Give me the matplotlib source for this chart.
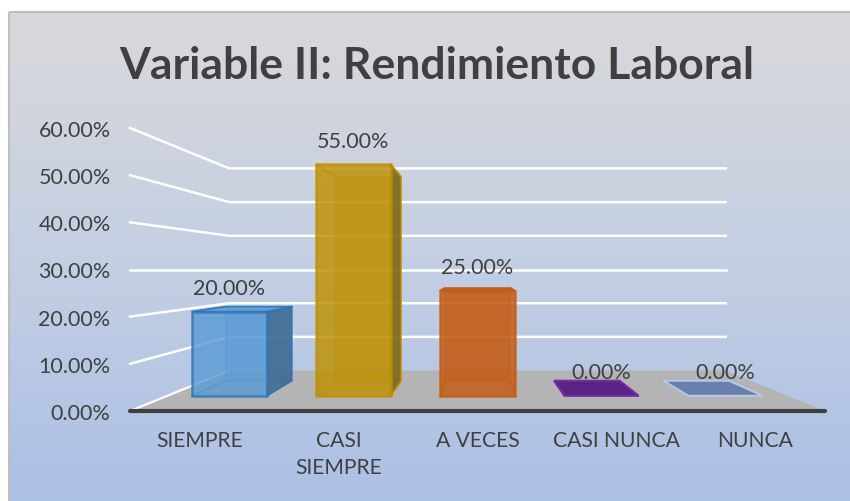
import numpy as np
import matplotlib.pyplot as plt
from matplotlib.colors import LinearSegmentedColormap
from matplotlib.patches import Polygon, Rectangle

categories = ["SIEMPRE", "CASI\nSIEMPRE", "A VECES", "CASI NUNCA", "NUNCA"]
values = [20.0, 55.0, 25.0, 0.0, 0.0]
y_ticks = [0, 10, 20, 30, 40, 50, 60]
title = "Variable II: Rendimiento Laboral"

face_colors = ["#5b9bd5", "#bf9000", "#c55a11", "#5a2383", "#6a7fab"]
edge_colors = ["#2e75b6", "#bf9000", "#c55a11", "#7030a0", "#b4c7e7"]
side_colors = ["#3d6690", "#7a6418", "#8a4010", "#3c175a", "#4a5a7a"]

plt.rcParams['font.family'] = ['Lato', 'DejaVu Sans']
TXT = "#404040"

W, H = 850, 502
fig = plt.figure(figsize=(W / 100, H / 100), dpi=100)

# background with gradient and thin frame
bg = fig.add_axes([0, 0, 1, 1])
grad = np.linspace(0, 1, 256)[:, None]
cmap = LinearSegmentedColormap.from_list("bg", ["#d9d9db", "#c4cfe2", "#abc0e6"])
bg.imshow(grad, extent=(9, W + 2, H + 2, 13), cmap=cmap, aspect='auto')
bg.add_patch(Rectangle((9, 13), W, H, fill=False, ec="#bfbfbf", lw=1.5))
bg.set_xlim(0, W)
bg.set_ylim(H, 0)
bg.axis('off')

fig.text(437 / W, 1 - 66 / H, title, ha='center', va='center',
         fontsize=32, fontweight='bold', color=TXT)

# front plane of the 3d box is the axes itself
ax = fig.add_axes([130 / W, 90 / H, 695 / W, 283 / H])
ax.set_xlim(-0.5, len(categories) - 0.5)
ax.set_ylim(0, 60)
ax.patch.set_visible(False)
for sp in ax.spines.values():
    sp.set_visible(False)

# simple one point perspective
VX, VY = 2.0, 30.0
DEPTH = 0.4
Z0, Z1 = 0.3, 0.68
HW = 0.3


def proj(x, y, z):
    s = 1.0 / (1.0 + DEPTH * z)
    return VX + (x - VX) * s, VY + (y - VY) * s


def poly(pts, **kw):
    p = Polygon([proj(*q) for q in pts], closed=True, clip_on=False, **kw)
    ax.add_patch(p)


def line(pts, **kw):
    xy = np.array([proj(*q) for q in pts])
    ax.plot(xy[:, 0], xy[:, 1], clip_on=False, **kw)


xl, xr = -0.5, len(categories) - 0.5

# floor
poly([(xl, 0, 0), (xr, 0, 0), (xr, 0, 1), (xl, 0, 1)], fc="#b4b4b4", ec='none', zorder=1)

# grid lines on side and back wall
for v in y_ticks:
    if v == 0:
        line([(xl, v, 0), (xl, v, 1)], color="white", lw=1.6, zorder=2)
    else:
        line([(xl, v, 0), (xl, v, 1), (xr, v, 1)], color="white", lw=1.8, zorder=0.5)

line([(xl, 0, 0), (xr, 0, 0)], color="#404040", lw=3, solid_capstyle='round', zorder=2)

# bars
for i, v in enumerate(values):
    fc, ec, sc = face_colors[i], edge_colors[i], side_colors[i]
    x0, x1 = i - HW, i + HW
    if v == 0:
        poly([(x0, 0, Z0), (x1, 0, Z0), (x1, 0, Z1), (x0, 0, Z1)],
             fc=fc, ec=ec, lw=1.5, zorder=3)
    else:
        # hidden edges seen through the glass
        poly([(x0, 0, Z1), (x1, 0, Z1), (x1, v, Z1), (x0, v, Z1)],
             fc=fc, ec=ec, lw=1.2, alpha=0.35, zorder=3)
        for xx in (x0, x1):
            for yy in (0, v):
                line([(xx, yy, Z0), (xx, yy, Z1)], color=ec, lw=1.2, alpha=0.7, zorder=3)
        if VX > x1:
            poly([(x1, 0, Z0), (x1, 0, Z1), (x1, v, Z1), (x1, v, Z0)],
                 fc=sc, ec=ec, lw=1.2, alpha=0.85, zorder=4)
        if VX < x0:
            poly([(x0, 0, Z0), (x0, 0, Z1), (x0, v, Z1), (x0, v, Z0)],
                 fc=sc, ec=ec, lw=1.2, alpha=0.85, zorder=4)
        if VY > v:
            poly([(x0, v, Z0), (x1, v, Z0), (x1, v, Z1), (x0, v, Z1)],
                 fc=fc, ec=ec, lw=1.2, alpha=0.85, zorder=4)
        poly([(x0, 0, Z0), (x1, 0, Z0), (x1, v, Z0), (x0, v, Z0)],
             fc=fc, ec=ec, lw=1.8, alpha=0.82, zorder=5)
    ax.annotate(f"{v:.2f}%", xy=proj(i, v, Z0), xytext=(0, 17),
                textcoords='offset points', ha='center', va='center',
                fontsize=15.5, color=TXT, annotation_clip=False, zorder=6)

ax.set_yticks(y_ticks)
ax.set_yticklabels([f"{t:.2f}%" for t in y_ticks])
ax.set_xticks(range(len(categories)))
ax.set_xticklabels(categories, linespacing=1.4)
ax.tick_params(axis='y', length=0, pad=14, labelsize=15.5, labelcolor=TXT)
ax.tick_params(axis='x', length=0, pad=14, labelsize=15.2, labelcolor=TXT)

fig.savefig("out.png", dpi=100)
